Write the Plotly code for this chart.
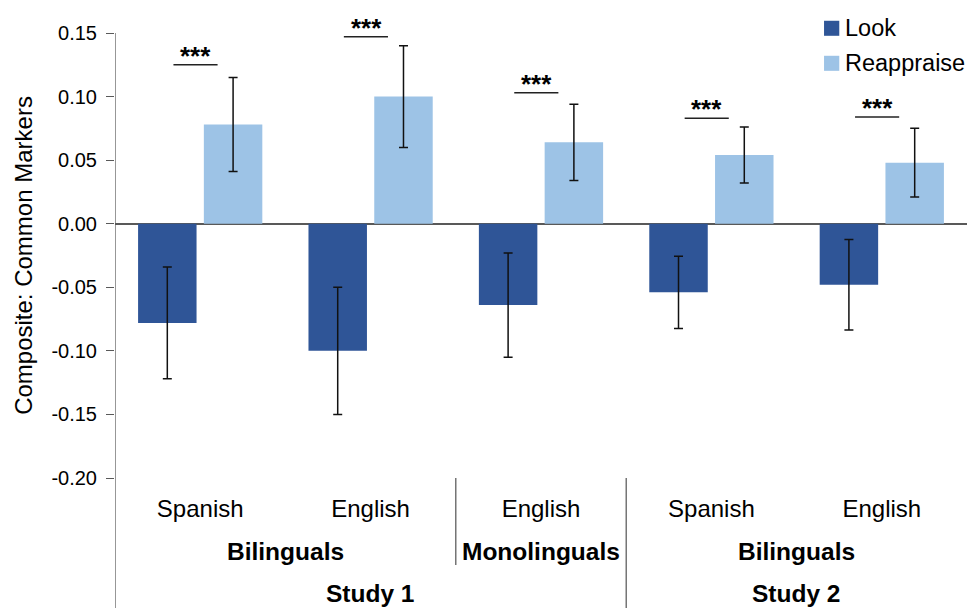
import plotly.graph_objects as go

# Category structure (three-level axis)
languages = ["Spanish", "English", "English", "Spanish", "English"]
group_labels = ["Bilinguals", "Monolinguals", "Bilinguals"]
group_centers = [0.5, 2.0, 3.5]
study_labels = ["Study 1", "Study 2"]
study_centers = [1.0, 3.5]
# boundaries between categories: (position, depth level reached)
dividers = [(1.5, 2), (2.5, 3)]

# Composite scores and error bars
look = [-0.078, -0.100, -0.064, -0.054, -0.048]
look_err = [0.044, 0.050, 0.041, 0.0285, 0.0355]
reappraise = [0.078, 0.100, 0.064, 0.054, 0.048]
reappraise_err = [0.037, 0.040, 0.030, 0.022, 0.027]

# Significance markers above each pair
sig_level = [0.125, 0.147, 0.103, 0.083, 0.084]
sig_text = ["***", "***", "***", "***", "***"]

y_ticks = [-0.20, -0.15, -0.10, -0.05, 0.00, 0.05, 0.10, 0.15]
y_ticktext = [f"{v:.2f}" for v in y_ticks]

LOOK_COLOR = "#2F5597"
REAP_COLOR = "#9DC3E6"
AXIS_COLOR = "#595959"
FONT = "Liberation Sans, Arial, sans-serif"

x = list(range(len(languages)))

fig = go.Figure()
fig.add_trace(go.Bar(
    x=x, y=look, name="Look", marker_color=LOOK_COLOR, marker_line_width=0,
    error_y=dict(type="data", array=look_err, color="#111111", thickness=1.5, width=4.5),
))
fig.add_trace(go.Bar(
    x=x, y=reappraise, name="Reappraise", marker_color=REAP_COLOR, marker_line_width=0,
    error_y=dict(type="data", array=reappraise_err, color="#111111", thickness=1.5, width=4.5),
))

shapes = []
annotations = []

# y axis line running down through the category label rows
shapes.append(dict(type="line", xref="x", yref="paper", x0=-0.5, x1=-0.5, y0=1, y1=-0.30,
                   line=dict(color=AXIS_COLOR, width=1.25)))

# category dividers
depth_bottom = {2: -0.1955, 3: -0.30}
for pos, lvl in dividers:
    shapes.append(dict(type="line", xref="x", yref="paper", x0=pos, x1=pos, y0=0, y1=depth_bottom[lvl],
                       line=dict(color=AXIS_COLOR, width=1.25)))

# significance brackets
for i, (lvl, txt) in enumerate(zip(sig_level, sig_text)):
    shapes.append(dict(type="line", xref="x", yref="y", x0=i - 0.157, x1=i + 0.102, y0=lvl, y1=lvl,
                       line=dict(color="#222222", width=1.5)))
    annotations.append(dict(x=i - 0.027, y=lvl, xref="x", yref="y", text=f"<b>{txt}</b>", showarrow=False,
                            yanchor="middle", yshift=9, font=dict(family=FONT, size=26, color="#000000"),
                            ))

# second and third label rows
for lab, c in zip(group_labels, group_centers):
    annotations.append(dict(x=c, y=-0.166, xref="x", yref="paper", text=f"<b>{lab}</b>", showarrow=False,
                            yanchor="middle", font=dict(family=FONT, size=24.5, color="#000000")))
for lab, c in zip(study_labels, study_centers):
    annotations.append(dict(x=c, y=-0.260, xref="x", yref="paper", text=f"<b>{lab}</b>", showarrow=False,
                            yanchor="middle", font=dict(family=FONT, size=24.5, color="#000000")))

# legend
legend_items = [("Look", LOOK_COLOR), ("Reappraise", REAP_COLOR)]
for k, (name, col) in enumerate(legend_items):
    yc = 1.0106 - k * 0.0787
    shapes.append(dict(type="rect", xref="paper", yref="paper", x0=0.8322, x1=0.8501,
                       y0=yc - 0.0169, y1=yc + 0.0169, fillcolor=col, line=dict(width=0)))
    annotations.append(dict(x=0.8541, y=yc, xref="paper", yref="paper", text=name, showarrow=False,
                            xanchor="left", yanchor="middle", font=dict(family=FONT, size=23.5, color="#000000")))

fig.update_layout(
    width=967, height=608,
    margin=dict(l=115, r=0, t=33, b=130),
    paper_bgcolor="white", plot_bgcolor="white",
    barmode="group", bargap=0.228, bargroupgap=0.111,
    showlegend=False,
    font=dict(family=FONT, color="#000000"),
    shapes=shapes, annotations=annotations,
    xaxis=dict(range=[-0.5, 4.5], tickvals=x, ticktext=languages, showgrid=False, zeroline=False,
               showline=False, ticks="", tickfont=dict(size=24, family=FONT), ticklabelstandoff=14),
    yaxis=dict(range=[-0.20, 0.15], tickvals=y_ticks, ticktext=y_ticktext, showgrid=False,
               zeroline=True, zerolinecolor=AXIS_COLOR, zerolinewidth=1.5, showline=False,
               ticks="outside", ticklen=8, tickwidth=1.25, tickcolor=AXIS_COLOR,
               tickfont=dict(size=20, family=FONT), ticklabelstandoff=5,
               title=dict(text="Composite: Common Markers", font=dict(size=24, family=FONT), standoff=12)),
)

fig.write_html("out.html")
